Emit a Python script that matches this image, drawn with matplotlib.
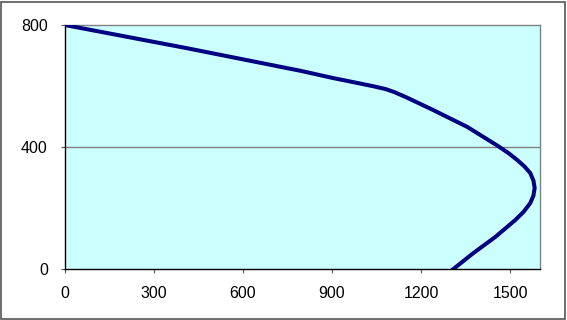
import numpy as np
import matplotlib.pyplot as plt
from matplotlib.patches import Rectangle

plt.rcParams['font.family'] = ['Liberation Sans', 'DejaVu Sans']

# values (Excel-style smoothed profile)
x_vals = [0, 406, 793, 904, 990, 1040, 1080, 1110, 1150, 1241, 1355, 1456,
          1494, 1524, 1548, 1567, 1578, 1582, 1578, 1567, 1545, 1517, 1449,
          1375, 1308]
y_vals = [800, 725, 650, 626, 609, 599, 590, 580, 563, 521, 466, 405,
          380, 357, 336, 315, 290, 266, 241, 216, 188, 161, 105,
          52, 0]
x_ticks = [0, 300, 600, 900, 1200, 1500]
y_ticks = [0, 400, 800]

fig = plt.figure(figsize=(5.67, 3.2), dpi=100)
fig.patches.append(Rectangle((0.002, 0.004), 0.995, 0.99, transform=fig.transFigure,
                             fill=False, edgecolor='#555555', lw=1.2))

ax = fig.add_axes([0.1138, 0.159, 0.8386, 0.763])
ax.set_facecolor('#CCFFFF')
ax.plot(x_vals, y_vals, color='#000080', lw=2.9, solid_joinstyle='round', zorder=3)

ax.set_xlim(0, 1600)
ax.set_ylim(0, 800)
ax.set_xticks(x_ticks)
ax.set_yticks(y_ticks)
ax.axhline(400, color='#808080', lw=1, zorder=2)

for s in ['left', 'bottom']:
    ax.spines[s].set_color('black')
for s in ['top', 'right']:
    ax.spines[s].set_color('#808080')
for s in ax.spines.values():
    s.set_linewidth(1)

ax.tick_params(direction='out', length=3, width=0.8, color='#555555',
               labelsize=11.5, pad=9)

fig.savefig('out.png', dpi=100)
